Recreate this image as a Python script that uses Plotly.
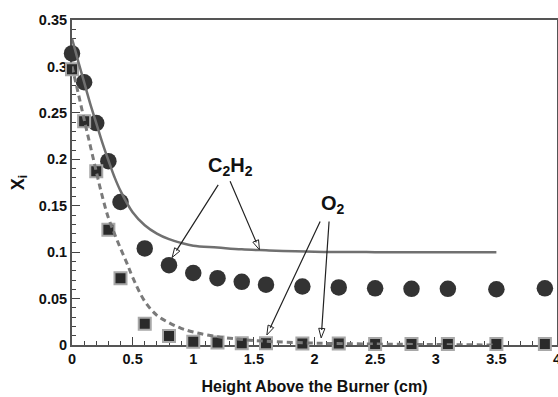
import math
import plotly.graph_objects as go

# ---- data ----
# measured C2H2 mole fraction (filled circles)
c2h2_x = [0, 0.1, 0.2, 0.3, 0.4, 0.6, 0.8, 1.0, 1.2, 1.4, 1.6, 1.9, 2.2, 2.5, 2.8, 3.1, 3.5, 3.9]
c2h2_y = [0.314, 0.283, 0.239, 0.198, 0.154, 0.104, 0.086, 0.0775, 0.072, 0.068, 0.065,
          0.063, 0.062, 0.061, 0.0605, 0.0605, 0.060, 0.061]

# measured O2 mole fraction (squares)
o2_x = [0, 0.1, 0.2, 0.3, 0.4, 0.6, 0.8, 1.0, 1.2, 1.4, 1.6, 1.9, 2.2, 2.5, 2.8, 3.1, 3.5, 3.9]
o2_y = [0.297, 0.241, 0.187, 0.124, 0.072, 0.023, 0.0097, 0.0036, 0.0027, 0.002, 0.002,
        0.0015, 0.0015, 0.0012, 0.0012, 0.0012, 0.001, 0.001]

# model curve C2H2 (solid)
c2h2_model_x = [0, 0.05, 0.1, 0.15, 0.2, 0.25, 0.3, 0.35, 0.4, 0.5, 0.6, 0.7, 0.8, 0.9,
                1.0, 1.2, 1.4, 1.6, 2.0, 2.5, 3.0, 3.5]
c2h2_model_y = [0.330, 0.306, 0.283, 0.260, 0.239, 0.218, 0.199, 0.181, 0.166, 0.143, 0.129,
                0.120, 0.114, 0.110, 0.107, 0.105, 0.103, 0.102, 0.1005, 0.100, 0.100, 0.100]

# model curve O2 (dashed)
o2_model_x = [0, 0.05, 0.1, 0.15, 0.2, 0.25, 0.3, 0.35, 0.4, 0.45, 0.5, 0.6, 0.7, 0.8, 0.9,
              1.0, 1.2, 1.4, 1.6, 2.0, 2.5, 3.0, 3.5]
o2_model_y = [0.300, 0.272, 0.243, 0.215, 0.187, 0.160, 0.137, 0.120, 0.104, 0.089, 0.073,
              0.047, 0.032, 0.024, 0.018, 0.014, 0.009, 0.006, 0.004, 0.002, 0.001, 0.0005, 0.0]

# arrow annotations: label, tip (data coords), tail offset (pixels)
labels = ["C<sub>2</sub>H<sub>2</sub>", "O<sub>2</sub>"]
label_x = [1.31, 2.155]
label_y = [0.192, 0.151]
arrow_tip_x = [0.826, 1.546, 1.607, 2.055]
arrow_tip_y = [0.0943, 0.1026, 0.0108, 0.0076]
arrow_ax = [47, -30, 54, 8]
arrow_ay = [-74, -70, -115, -118]

FONT = "Liberation Sans, Arial, Helvetica, sans-serif"

fig = go.Figure()

fig.add_trace(go.Scatter(
    x=c2h2_x, y=c2h2_y, mode="markers", cliponaxis=False,
    marker=dict(symbol="circle", size=16.5, color="#333333", line=dict(width=0)),
    showlegend=False))

fig.add_trace(go.Scatter(
    x=o2_x, y=o2_y, mode="markers", cliponaxis=False,
    marker=dict(symbol="square", size=12, color="#2a2a2a",
                line=dict(color="#a8a8a8", width=2)),
    showlegend=False))

fig.add_trace(go.Scatter(
    x=c2h2_model_x, y=c2h2_model_y, mode="lines", line_shape="spline",
    line=dict(color="#707070", width=2.5), showlegend=False))

fig.add_trace(go.Scatter(
    x=o2_model_x, y=o2_model_y, mode="lines", line_shape="spline",
    line=dict(color="#7a7a7a", width=3, dash="6px,4px"), showlegend=False))

# arrow shafts
for tx, ty, ax, ay in zip(arrow_tip_x, arrow_tip_y, arrow_ax, arrow_ay):
    fig.add_annotation(x=tx, y=ty, ax=ax, ay=ay, xref="x", yref="y",
                       text="", showarrow=True, arrowhead=0, arrowwidth=1.2,
                       arrowcolor="#222222", standoff=8)

# open arrow heads (white-filled arrow markers)
angles = [math.degrees(math.atan2(-ax, ay)) for ax, ay in zip(arrow_ax, arrow_ay)]
fig.add_trace(go.Scatter(
    x=arrow_tip_x, y=arrow_tip_y, mode="markers", cliponaxis=False,
    marker=dict(symbol="arrow", size=10, angle=angles, color="white",
                line=dict(color="#222222", width=1)),
    showlegend=False))

for t, lx, ly in zip(labels, label_x, label_y):
    fig.add_annotation(x=lx, y=ly, xref="x", yref="y", text=t, showarrow=False,
                       font=dict(family=FONT, size=20, color="#111111", weight="bold"))

axis_common = dict(
    showline=True, linecolor="#555555", linewidth=2, mirror=True,
    ticks="inside", ticklen=8, tickwidth=1.2, tickcolor="#444444",
    showgrid=False, zeroline=False, layer="below traces",
    ticklabeloverflow="allow",
    tickfont=dict(family=FONT, size=14.5, color="#111111", weight="bold"),
)

fig.update_xaxes(range=[0, 4], dtick=0.5, tick0=0,
                 minor=dict(dtick=0.1, ticks="inside", ticklen=4, tickcolor="#444444", showgrid=False),
                 title=dict(text="Height Above the Burner (cm)", standoff=14,
                            font=dict(family=FONT, size=16, color="#111111", weight="bold")),
                 ticklabelstandoff=0,
                 **axis_common)
fig.update_yaxes(range=[0, 0.35], dtick=0.05, tick0=0,
                 minor=dict(dtick=0.01, ticks="inside", ticklen=4, tickcolor="#444444", showgrid=False),
                 title=dict(text="X<sub>i</sub>", standoff=10,
                            font=dict(family=FONT, size=18, color="#111111", weight="bold")),
                 ticklabelstandoff=0,
                 **axis_common)

fig.update_layout(
    width=558, height=397,
    margin=dict(l=72, r=1, t=20, b=52, autoexpand=False),
    paper_bgcolor="white", plot_bgcolor="white",
    font=dict(family=FONT),
)

fig.write_html("out.html", config={"displayModeBar": False},
               post_script="document.body.style.margin='0';document.body.style.overflow='hidden';")
